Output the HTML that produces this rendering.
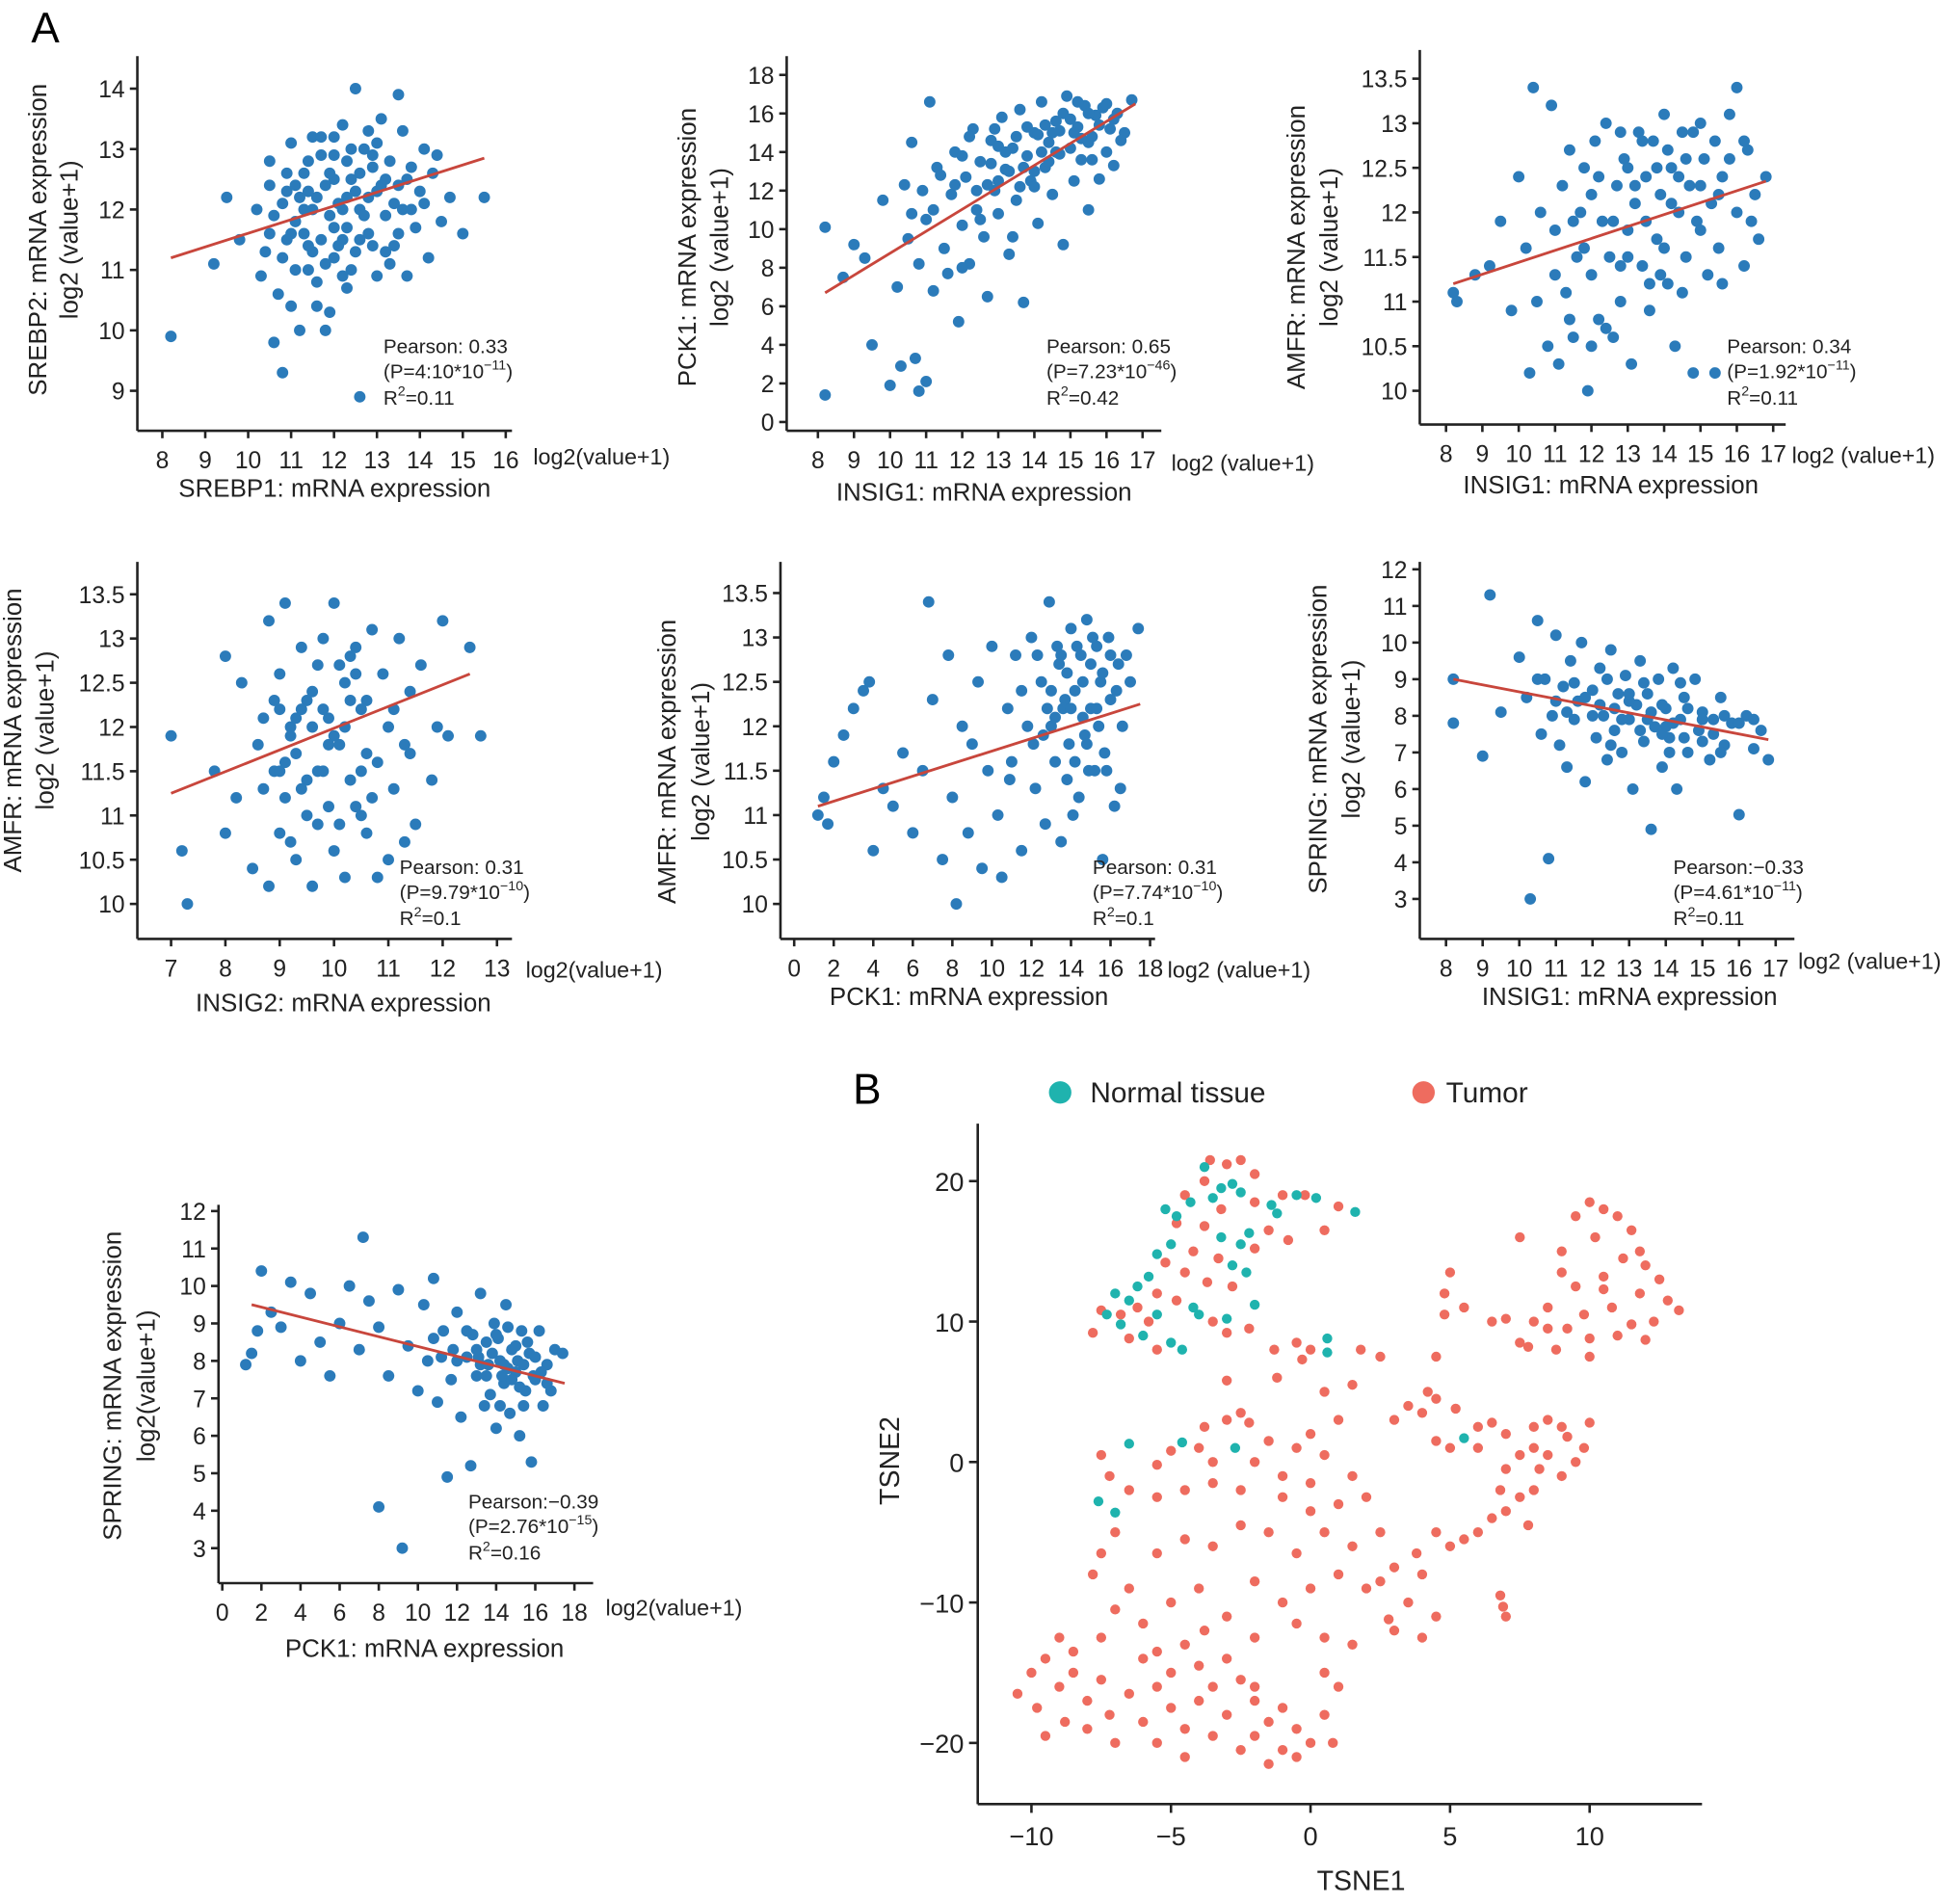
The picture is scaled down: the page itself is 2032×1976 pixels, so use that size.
<!DOCTYPE html>
<html><head><meta charset="utf-8">
<style>
html,body{margin:0;padding:0;background:#fff;}
svg{display:block;font-family:"Liberation Sans",Arial,sans-serif;}
</style></head>
<body>
<svg id="fig" width="2032" height="1976" viewBox="0 0 1568 1525" preserveAspectRatio="none" xmlns="http://www.w3.org/2000/svg">
<rect width="1568" height="1525" fill="#fff"/>
<text x="25" y="34" font-size="34">A</text>
<text x="683" y="884" font-size="34">B</text>
</svg>
<script>
// ---------- data ----------
const p1Data=[[8.2,9.9],[9.2,11.1],[9.5,12.2],[9.8,11.5],[10.2,12.0],[10.3,10.9],[10.5,11.6],[10.5,12.8],[10.6,9.8],[10.8,9.3],[10.8,11.2],[10.9,12.3],[11.0,10.4],[11.0,13.1],[11.1,11.8],[11.2,10.0],[11.3,12.6],[11.4,11.0],[11.5,12.0],[11.5,13.2],[11.6,10.8],[11.7,11.5],[11.8,12.4],[11.9,10.3],[12.0,12.9],[12.0,11.2],[12.1,12.1],[12.2,13.4],[12.3,11.7],[12.3,10.7],[12.4,12.5],[12.5,14.0],[12.5,11.3],[12.6,12.0],[12.7,13.0],[12.8,11.6],[12.9,12.7],[13.0,10.9],[13.0,12.3],[13.1,13.5],[13.2,11.9],[13.3,12.8],[13.4,11.4],[13.5,12.4],[13.5,13.9],[13.6,12.0],[13.7,10.9],[13.8,12.7],[13.9,11.7],[14.0,12.3],[14.1,13.0],[14.2,11.2],[14.3,12.6],[14.5,11.8],[14.7,12.2],[15.0,11.6],[15.5,12.2],[12.6,8.9],[11.7,12.9],[12.2,12.0],[11.3,11.6],[12.8,12.2],[13.3,11.1],[10.9,12.6],[12.0,13.2],[11.6,12.2],[12.4,11.0],[13.8,12.0],[12.9,11.4],[11.1,12.4],[10.7,10.6],[14.4,12.9],[13.6,13.3],[11.9,11.9],[12.6,12.6],[11.4,12.3],[12.2,11.5],[10.6,11.9],[13.1,12.4],
[11.2,12.2],[11.4,12.8],[11.8,11.1],[12.1,11.4],[12.3,12.8],[12.5,12.3],[12.7,11.9],[12.0,12.5],[11.5,11.3],[11.9,12.6],[12.4,13.0],[13.2,12.5],[13.4,12.1],[12.8,13.3],[11.3,12.0],[11.0,11.6],[10.8,12.1],[10.4,11.3],[12.2,10.9],[11.6,10.4],[11.8,10.0],[13.0,13.1],[13.7,12.5],[14.1,12.1],[11.1,11.0],[12.6,11.5],[12.9,12.9],[11.7,13.2],[10.5,12.4],[13.5,11.6],[12.0,11.7],[11.4,11.4],[12.3,12.2],[13.2,11.3],[10.9,11.5]];
const p1Fit=[[8.2,11.2],[15.5,12.85]];
const p2Data=[[8.2,10.1],[8.2,1.4],[8.7,7.5],[9.0,9.2],[9.3,8.5],[9.5,4.0],[9.8,11.5],[10.0,1.9],[10.2,7.0],[10.3,2.9],[10.4,12.3],[10.5,9.5],[10.6,14.5],[10.7,3.3],[10.8,1.6],[10.8,8.2],[10.9,12.0],[11.0,2.1],[11.0,10.5],[11.1,16.6],[11.2,6.8],[11.3,13.2],[11.5,9.0],[11.6,7.7],[11.7,11.8],[11.8,14.0],[11.9,5.2],[12.0,10.2],[12.1,12.7],[12.2,8.2],[12.3,15.2],[12.4,11.0],[12.5,13.5],[12.6,9.6],[12.7,6.5],[12.8,14.6],[12.9,12.0],[13.0,10.8],[13.1,15.8],[13.2,13.1],[13.3,8.7],[13.4,14.2],[13.5,11.5],[13.6,16.2],[13.7,6.2],[13.8,13.8],[13.9,12.5],[14.0,15.0],[14.1,10.3],[14.2,16.6],[14.3,13.2],[14.4,14.5],[14.5,11.8],[14.6,15.6],[14.7,13.9],[14.8,9.2],[14.9,16.9],[15.0,14.2],[15.1,12.5],[15.2,15.3],[15.3,13.6],[15.4,16.4],[15.5,11.0],[15.6,14.8],[15.7,15.9],[15.8,12.6],[15.9,16.3],[16.0,14.0],[16.1,15.2],[16.2,13.3],[16.3,16.0],[16.5,15.0],[16.7,16.7],[12.0,13.8],[13.0,14.3],[14.0,13.0],[12.5,10.5],[11.4,12.8],[13.6,12.2],[14.6,14.0],[15.1,15.0],[13.3,13.0],[14.3,15.4],[15.5,14.5],[12.7,12.3],
[13.5,14.8],[13.8,15.3],[14.2,14.0],[14.5,15.0],[14.8,16.0],[15.0,15.7],[15.3,14.7],[15.5,16.0],[15.8,15.4],[16.0,16.5],[16.2,15.7],[13.2,14.0],[12.8,13.4],[12.4,12.0],[13.0,12.5],[14.0,12.2],[14.4,13.5],[15.6,13.6],[16.4,14.6],[12.2,14.8],[11.8,12.3],[11.2,11.0],[10.6,10.8],[12.0,8.0],[13.4,9.6],[14.7,15.1],[15.2,16.6],[14.1,14.9],[13.7,13.2],[12.9,15.2]];
const p2Fit=[[8.2,6.7],[16.8,16.5]];
const p3Data=[[8.2,11.1],[8.3,11.0],[8.8,11.3],[9.2,11.4],[9.5,11.9],[9.8,10.9],[10.0,12.4],[10.2,11.6],[10.3,10.2],[10.4,13.4],[10.5,11.0],[10.6,12.0],[10.8,10.5],[10.9,13.2],[11.0,11.8],[11.1,10.3],[11.2,12.3],[11.3,11.1],[11.4,12.7],[11.5,10.6],[11.6,11.5],[11.7,12.0],[11.9,10.0],[12.0,11.3],[12.1,12.8],[12.2,10.8],[12.3,11.9],[12.4,13.0],[12.5,11.5],[12.6,10.6],[12.7,12.3],[12.8,11.0],[12.9,12.6],[13.0,11.8],[13.1,10.3],[13.2,12.1],[13.3,12.9],[13.4,11.4],[13.5,12.4],[13.6,10.9],[13.7,12.8],[13.8,11.7],[13.9,12.2],[14.0,13.1],[14.1,11.2],[14.2,12.5],[14.3,10.5],[14.4,12.0],[14.5,12.9],[14.6,11.5],[14.7,12.3],[14.8,10.2],[14.9,11.9],[15.0,13.0],[15.1,12.6],[15.2,11.3],[15.3,12.1],[15.4,12.8],[15.5,11.6],[15.6,12.4],[15.8,13.1],[16.0,12.0],[16.0,13.4],[16.2,11.4],[16.3,12.7],[16.5,12.2],[16.6,11.7],[16.8,12.4],[13.0,12.5],[12.0,12.2],[14.5,11.1],[13.5,11.9],[15.4,10.2],[12.8,12.9],[11.8,11.6],[14.1,12.7],[15.0,12.3],[13.9,11.3],
[13.2,12.3],[13.8,12.5],[14.2,12.1],[14.6,12.6],[15.0,11.8],[15.5,12.2],[14.0,11.6],[13.4,12.8],[12.6,11.9],[12.2,12.4],[11.5,11.9],[11.0,11.3],[12.8,11.4],[15.8,12.6],[16.2,12.8],[14.8,12.9],[13.6,11.2],[12.4,10.7],[11.4,10.8],[15.6,11.2],[14.4,12.4],[13.0,11.5],[16.4,11.9],[12.0,10.5],[11.8,12.5]];
const p3Fit=[[8.2,11.2],[16.8,12.35]];
const p4Data=[[7.0,11.9],[7.2,10.6],[7.3,10.0],[7.8,11.5],[8.0,12.8],[8.0,10.8],[8.2,11.2],[8.3,12.5],[8.5,10.4],[8.6,11.8],[8.7,12.1],[8.8,10.2],[8.8,13.2],[8.9,11.5],[9.0,12.6],[9.0,10.8],[9.1,11.2],[9.1,13.4],[9.2,12.0],[9.3,10.5],[9.3,11.7],[9.4,12.9],[9.5,11.0],[9.5,12.3],[9.6,10.2],[9.7,11.5],[9.7,12.7],[9.8,13.0],[9.9,11.1],[9.9,12.1],[10.0,10.6],[10.0,13.4],[10.1,11.8],[10.2,12.5],[10.2,10.3],[10.3,11.4],[10.4,12.9],[10.5,11.0],[10.5,12.2],[10.6,10.8],[10.7,13.1],[10.8,11.6],[10.9,12.6],[11.0,10.5],[11.0,12.0],[11.1,11.3],[11.2,13.0],[11.3,11.8],[11.4,12.4],[11.5,10.9],[11.6,12.7],[11.8,11.4],[11.9,12.0],[12.0,13.2],[12.1,11.9],[12.5,12.9],[12.7,11.9],[9.4,12.2],[9.2,11.9],[10.3,12.3],[9.6,12.0],[10.6,11.7],[8.9,12.3],[9.8,11.5],[10.8,10.3],[11.3,10.7],[9.0,11.5],[10.1,12.7],[9.5,11.4],[10.4,11.1],
[9.3,12.1],[9.6,12.4],[9.8,12.2],[10.0,11.9],[10.2,12.0],[10.4,12.6],[10.6,12.3],[9.1,11.6],[9.4,11.3],[9.9,11.8],[10.7,11.2],[9.7,10.9],[10.1,10.9],[9.2,10.7],[11.1,12.2],[11.4,11.7],[8.7,11.3],[10.5,11.5],[9.0,12.2],[10.3,12.8]];
const p4Fit=[[7.0,11.25],[12.5,12.6]];
const p5Data=[[1.2,11.0],[1.5,11.2],[1.7,10.9],[2.0,11.6],[2.5,11.9],[3.0,12.2],[3.5,12.4],[3.8,12.5],[4.0,10.6],[4.5,11.3],[5.0,11.1],[5.5,11.7],[6.0,10.8],[6.5,11.5],[6.8,13.4],[7.0,12.3],[7.5,10.5],[7.8,12.8],[8.0,11.2],[8.2,10.0],[8.5,12.0],[8.8,10.8],[9.0,11.8],[9.3,12.5],[9.5,10.4],[9.8,11.5],[10.0,12.9],[10.3,11.0],[10.5,10.3],[10.8,12.2],[11.0,11.6],[11.2,12.8],[11.5,10.6],[11.8,12.0],[12.0,13.0],[12.2,11.3],[12.5,12.5],[12.7,10.9],[12.9,13.4],[13.0,12.0],[13.2,11.6],[13.4,12.7],[13.5,10.7],[13.7,12.3],[13.9,11.8],[14.0,13.1],[14.2,12.4],[14.4,11.2],[14.5,12.8],[14.7,11.9],[14.8,13.2],[15.0,12.2],[15.2,11.5],[15.3,12.9],[15.5,12.5],[15.7,11.7],[15.9,13.0],[16.0,12.3],[16.2,11.1],[16.4,12.7],[16.6,12.0],[17.0,12.5],[17.4,13.1],[14.1,11.0],[13.3,12.9],[12.6,11.9],[15.6,10.5],[10.9,11.4],[14.9,11.5],[13.8,12.6],[14.6,12.1],[15.4,12.0],[13.6,12.2],
[13.0,12.4],[13.5,12.8],[14.0,12.2],[14.3,12.9],[14.6,12.5],[15.0,12.7],[15.3,12.2],[15.6,12.6],[16.0,12.8],[16.3,12.4],[14.8,11.8],[13.8,11.4],[12.8,12.2],[12.3,12.8],[15.8,11.5],[16.5,11.3],[14.2,11.6],[13.2,12.1],[15.1,13.0],[16.8,12.8],[12.1,11.8],[11.5,12.4]];
const p5Fit=[[1.2,11.1],[17.5,12.25]];
const p6Data=[[8.2,9.0],[8.2,7.8],[9.0,6.9],[9.2,11.3],[9.5,8.1],[10.0,9.6],[10.2,8.5],[10.3,3.0],[10.5,10.6],[10.6,7.5],[10.7,9.0],[10.8,4.1],[10.9,8.0],[11.0,10.2],[11.1,7.2],[11.2,8.8],[11.3,6.6],[11.4,9.5],[11.5,7.9],[11.6,8.4],[11.7,10.0],[11.8,6.2],[12.0,8.7],[12.1,7.4],[12.2,9.3],[12.3,8.0],[12.4,6.8],[12.5,9.8],[12.6,7.6],[12.7,8.6],[12.8,7.0],[12.9,9.1],[13.0,7.9],[13.1,6.0],[13.2,8.3],[13.3,9.5],[13.4,7.3],[13.5,8.6],[13.6,4.9],[13.7,7.7],[13.8,9.0],[13.9,6.6],[14.0,8.2],[14.1,7.4],[14.2,9.3],[14.3,6.0],[14.4,7.9],[14.5,8.5],[14.6,7.0],[14.8,9.0],[14.9,7.6],[15.0,8.1],[15.2,6.8],[15.3,7.9],[15.5,8.5],[15.6,7.2],[15.8,7.8],[16.0,5.3],[16.2,8.0],[16.4,7.1],[16.6,7.6],[16.8,6.8],[12.0,8.0],[13.0,8.4],[14.0,7.7],[11.5,8.9],[15.0,7.3],[12.5,7.2],[13.5,7.9],[14.5,7.4],[13.9,8.3],[11.0,8.4],
[12.2,8.3],[12.6,8.2],[13.0,8.6],[13.3,7.6],[13.6,8.1],[13.9,7.5],[14.2,7.8],[14.6,8.2],[15.0,7.9],[15.3,7.5],[15.6,8.0],[14.4,8.9],[13.4,8.9],[12.8,7.9],[12.4,9.0],[11.8,8.5],[11.3,8.1],[10.5,9.0],[14.1,7.0],[15.5,7.0],[16.0,7.8],[16.4,7.9]];
const p6Fit=[[8.2,9.0],[16.8,7.35]];
const p7Data=[[1.2,7.9],[1.5,8.2],[1.8,8.8],[2.0,10.4],[2.5,9.3],[3.0,8.9],[3.5,10.1],[4.0,8.0],[4.5,9.8],[5.0,8.5],[5.5,7.6],[6.0,9.0],[6.5,10.0],[7.0,8.3],[7.2,11.3],[7.5,9.6],[8.0,4.1],[8.0,8.9],[8.5,7.6],[9.0,9.9],[9.2,3.0],[9.5,8.4],[10.0,7.2],[10.3,9.5],[10.5,8.0],[10.8,10.2],[11.0,6.9],[11.3,8.8],[11.5,4.9],[11.7,7.5],[12.0,9.3],[12.2,6.5],[12.5,8.1],[12.7,5.2],[13.0,7.6],[13.2,9.8],[13.4,6.8],[13.5,8.5],[13.7,7.1],[13.9,9.0],[14.0,6.2],[14.2,8.0],[14.4,7.4],[14.5,9.5],[14.7,6.6],[14.8,8.3],[15.0,7.7],[15.2,6.0],[15.3,8.8],[15.5,7.2],[15.7,8.2],[15.8,5.3],[16.0,7.5],[16.2,8.8],[16.4,6.8],[16.6,7.9],[16.8,7.2],[17.0,8.3],[17.4,8.2],[12.8,8.7],[14.1,8.6],[15.1,8.0],[13.6,7.9],[11.8,8.3],[14.6,7.8],[15.9,7.6],[14.3,7.6],[13.1,8.1],[15.4,7.9],
[12.5,8.8],[13.0,8.3],[13.5,7.6],[13.8,8.2],[14.0,8.7],[14.4,7.9],[14.8,7.5],[15.0,8.4],[15.2,7.3],[15.6,8.5],[16.0,8.1],[16.3,7.7],[14.6,8.9],[13.2,7.9],[12.0,8.0],[11.2,8.1],[10.8,8.6],[15.4,6.8],[16.6,7.4],[14.2,6.8]];
const p7Fit=[[1.5,9.5],[17.5,7.4]];
const tsneNormal=[[-3.8,21.0],[-3.2,19.5],[-2.8,19.8],[-2.5,19.2],[-4.3,18.5],[-3.5,18.8],[-5.2,18.0],[-4.8,17.5],[-1.4,18.3],[-0.5,19.0],[0.2,18.8],[1.6,17.8],[-1.2,17.7],[-2.2,16.3],[-2.5,15.5],[-3.2,16.0],[-5.0,15.5],[-5.5,14.8],[-2.8,14.0],[-2.3,13.5],[-5.8,13.2],[-6.2,12.5],[-7.0,12.0],[-6.5,11.5],[-4.2,11.0],[-4.0,10.5],[-5.5,10.5],[-2.0,11.2],[-3.0,10.2],[-7.3,10.5],[-6.8,9.8],[-6.0,9.0],[-5.0,8.5],[-4.6,8.0],[0.6,8.8],[0.6,7.8],[-6.5,1.3],[-4.6,1.4],[-2.7,1.0],[5.5,1.7],[-7.6,-2.8],[-7.0,-3.6]];
const tsneTumor=[[-3.6,21.5],[-3.0,21.2],[-2.5,21.5],[-2.0,20.5],[-3.8,20.0],[-4.5,19.0],[-3.2,18.0],[-2.0,18.5],[-1.0,19.0],[-0.2,19.0],[1.0,18.2],[-4.8,17.0],[-3.8,16.8],[-1.5,16.5],[-0.8,15.8],[0.5,16.5],[-2.0,15.2],[-4.2,15.0],[-3.3,14.5],[-5.2,14.2],[-4.5,13.5],[-3.7,12.8],[-2.8,12.5],[-5.5,12.0],[-4.8,11.5],[-6.2,11.0],[-7.5,10.8],[-6.8,10.5],[-5.8,10.0],[-3.5,10.0],[-2.2,9.5],[-7.8,9.2],[-6.5,8.8],[-5.5,8.0],[-3.0,9.2],[-1.3,8.0],[-0.5,8.5],[0.0,8.0],[-0.3,7.3],[1.8,8.0],[2.5,7.5],[1.5,5.5],[0.5,5.0],[-1.2,6.0],[-3.0,5.8],
[7.5,16.0],[9.5,17.5],[10.0,18.5],[10.5,18.0],[11.0,17.5],[11.5,16.5],[10.2,16.0],[9.0,15.0],[11.2,14.5],[12.0,14.0],[12.5,13.0],[10.5,13.2],[9.5,12.5],[11.8,12.0],[12.8,11.5],[13.2,10.8],[12.3,10.0],[10.8,11.0],[9.8,10.5],[8.5,11.0],[8.0,10.0],[9.2,9.5],[10.0,8.8],[11.0,9.0],[7.0,10.2],[6.5,10.0],[5.0,13.5],[4.8,12.0],[5.5,11.0],[4.8,10.5],[8.8,8.0],[10.0,7.5],[7.5,8.5],[11.5,9.8],[12.0,8.7],[10.5,12.3],[9.0,13.5],[11.8,15.0],[8.5,9.5],[7.8,8.2],
[4.5,7.5],[4.2,5.0],[3.5,4.0],[4.5,4.5],[3.0,3.0],[4.0,3.5],[5.2,3.8],[6.0,2.5],[6.5,2.8],[7.0,2.0],[8.0,2.5],[8.5,3.0],[9.0,2.5],[9.2,1.8],[8.0,1.0],[7.5,0.5],[7.0,-0.5],[8.2,-0.5],[8.5,0.5],[9.0,-1.0],[9.5,0.0],[9.8,1.0],[10.0,2.8],[6.0,1.0],[5.0,1.0],[4.5,1.5],[6.8,-2.0],[7.5,-2.5],[8.0,-2.0],[7.0,-3.5],[6.5,-4.0],[7.8,-4.5],[6.0,-5.0],[5.5,-5.5],[5.0,-6.0],[4.5,-5.0],[3.8,-6.5],[3.0,-7.5],[4.0,-8.0],[2.5,-8.5],[2.0,-9.0],[3.5,-10.0],[6.8,-9.5],[6.9,-10.3],[7.0,-11.0],[4.5,-11.0],[3.0,-12.0],[4.0,-12.5],[2.8,-11.2],
[1.0,3.0],[0.0,2.0],[-0.5,1.0],[0.5,0.5],[-1.5,1.5],[-2.2,2.8],[-3.0,3.0],[-3.8,2.5],[-2.5,3.5],[-4.0,1.0],[-5.0,0.8],[-5.5,-0.2],[-3.5,0.0],[-2.0,0.0],[-1.0,-1.0],[0.0,-1.5],[1.5,-1.0],[2.0,-2.5],[1.0,-3.0],[0.0,-3.5],[-1.0,-2.5],[-2.5,-2.0],[-3.5,-1.5],[-4.5,-2.0],[-5.5,-2.5],[-6.5,-2.0],[-7.5,0.5],[-7.2,-1.0],[-7.0,-5.0],[-7.5,-6.5],[-7.8,-8.0],[-6.5,-9.0],[-7.0,-10.5],[-6.0,-11.5],[-5.0,-10.0],[-4.0,-9.0],[-5.5,-6.5],[-4.5,-5.5],[-3.5,-6.0],[-2.5,-4.5],[-1.5,-5.0],[-0.5,-6.5],[0.5,-5.0],[1.5,-6.0],[2.5,-5.0],[1.0,-8.0],[0.0,-9.0],[-1.0,-10.0],[-2.0,-8.5],[-3.0,-11.0],[-2.0,-12.5],[-0.5,-11.5],[0.5,-12.5],[1.5,-13.0],[-4.5,-13.0],[-5.5,-13.5],
[-10.5,-16.5],[-10.0,-15.0],[-9.5,-14.0],[-9.8,-17.5],[-9.5,-19.5],[-9.0,-16.0],[-8.8,-18.5],[-8.5,-15.0],[-8.0,-17.0],[-8.0,-19.0],[-7.5,-15.5],[-7.2,-18.0],[-7.0,-20.0],[-6.5,-16.5],[-6.0,-14.0],[-6.0,-18.5],[-5.5,-16.0],[-5.0,-17.5],[-5.0,-15.0],[-4.5,-19.0],[-4.0,-14.5],[-4.0,-17.0],[-3.5,-16.0],[-3.0,-14.0],[-3.0,-18.0],[-2.5,-15.5],[-2.0,-17.0],[-2.0,-19.5],[-1.5,-18.5],[-1.0,-20.5],[-1.0,-17.5],[-0.5,-21.0],[-0.5,-19.0],[0.0,-20.0],[0.5,-18.0],[0.8,-20.0],[1.0,-16.0],[-1.5,-21.5],[-2.5,-20.5],[-3.5,-19.5],[-4.5,-21.0],[-5.5,-20.0],[-8.5,-13.5],[-9.0,-12.5],[-2.0,-16.0],[-3.8,-12.0],[0.5,-15.0],[-7.5,-12.5]];
const tsneXTicks=[-10,-5,0,5,10];
const tsneYTicks=[-20,-10,0,10,20];

// ---------- helpers ----------
const NS='http://www.w3.org/2000/svg';
const svg=document.getElementById('fig');
function mk(tag,attrs,parent){const e=document.createElementNS(NS,tag);for(const k in attrs)e.setAttribute(k,attrs[k]);(parent||svg).appendChild(e);return e;}
function lin(d0,d1,r0,r1){return v=>r0+(v-d0)*(r1-r0)/(d1-d0);}
function fmt(v){return v<0?'\u2212'+Math.abs(v):String(v);}

function scatterPanel(c){
  const g=mk('g',{});
  
  
  const sx=lin(c.xd[0],c.xd[1],c.xr[0],c.xr[1]);
  const sy=lin(c.yd[0],c.yd[1],c.yr[0],c.yr[1]);
  const ya=mk('line',{x1:c.ax,y1:c.top,x2:c.ax,y2:c.ay,stroke:'#222','stroke-width':2},g);
  
  const xa=mk('line',{x1:c.ax,y1:c.ay,x2:c.right,y2:c.ay,stroke:'#222','stroke-width':2},g);
  
  c.xt.forEach(v=>{const x=sx(v);
    mk('line',{x1:x,y1:c.ay,x2:x,y2:c.ay+6,stroke:'#222','stroke-width':2},g);
    const t=mk('text',{x:x,y:c.ay+30,'font-size':19,'text-anchor':'middle',fill:'#222'},g);t.textContent=fmt(v);
    });
  c.yt.forEach(v=>{const y=sy(v);
    mk('line',{x1:c.ax-6,y1:y,x2:c.ax,y2:y,stroke:'#222','stroke-width':2},g);
    const t=mk('text',{x:c.ax-10,y:y+7,'font-size':19,'text-anchor':'end',fill:'#222'},g);t.textContent=fmt(v);
    });
  c.data.forEach(p=>{const d=mk('circle',{cx:sx(p[0]),cy:sy(p[1]),r:4.6,fill:c.color},g);
    });
  if(c.fit){const l=mk('line',{x1:sx(c.fit[0][0]),y1:sy(c.fit[0][1]),x2:sx(c.fit[1][0]),y2:sy(c.fit[1][1]),stroke:'#c8463c','stroke-width':2.2},g);
    }
  if(c.xl){const t=mk('text',{x:c.xl[1],y:c.xl[2],'font-size':20,'text-anchor':'middle',fill:'#222'},g);t.textContent=c.xl[0];
    }
  if(c.unit){const t=mk('text',{x:c.unit[1],y:c.unit[2],'font-size':18,fill:'#222'},g);t.textContent=c.unit[0];
    }
  if(c.yl){c.yl.forEach((s,i)=>{const x=c.ylx[i],y=c.yly;
    const t=mk('text',{x:x,y:y,'font-size':20,'text-anchor':'middle',fill:'#222',transform:`rotate(-90 ${x} ${y})`},g);t.textContent=s;
    });}
  if(c.stats){const [px,py]=c.statPos;
    const a=mk('text',{x:px,y:py,'font-size':16,fill:'#222'},g);a.textContent='Pearson:'+c.stats[0];
    
    const b=mk('text',{x:px,y:py+20,'font-size':16,fill:'#222'},g);
    
    b.appendChild(document.createTextNode('(P='+c.stats[1]+'*10'));
    const s=mk('tspan',{'font-size':11,dy:-7},b);s.textContent=c.stats[2];
    const e=mk('tspan',{dy:7},b);e.textContent=')';
    const r=mk('text',{x:px,y:py+41,'font-size':16,fill:'#222'},g);
    
    r.appendChild(document.createTextNode('R'));
    const s2=mk('tspan',{'font-size':11,dy:-7},r);s2.textContent='2';
    const e2=mk('tspan',{dy:7},r);e2.textContent='='+c.stats[3];}
  return g;
}
const BLUE='#2b7bba';
const r8_16=[8,9,10,11,12,13,14,15,16], r8_17=[8,9,10,11,12,13,14,15,16,17], r0_18=[0,2,4,6,8,10,12,14,16,18];
scatterPanel({name:'scatter-srebp1-srebp2',data:p1Data,fit:p1Fit,color:BLUE,ax:110,ay:345,top:45,right:410,xd:[8,16],xr:[130,405],yd:[9,14],yr:[313,71],xt:r8_16,yt:[9,10,11,12,13,14],
  xl:['SREBP1: mRNA expression',268,398],unit:['log2(value+1)',427,372],yl:['SREBP2:  mRNA expression','log2 (value+1)'],ylx:[37,62],yly:192,stats:[' 0.33','4:10','\u221211','0.11'],statPos:[307,283]});
scatterPanel({name:'scatter-insig1-pck1',data:p2Data,fit:p2Fit,color:BLUE,ax:630,ay:345,top:45,right:930,xd:[8,17],xr:[655,915],yd:[0,18],yr:[338,60],xt:r8_17,yt:[0,2,4,6,8,10,12,14,16,18],
  xl:['INSIG1: mRNA expression',788,401],unit:['log2 (value+1)',938,377],yl:['PCK1:  mRNA expression','log2 (value+1)'],ylx:[557,583],yly:198,stats:[' 0.65','7.23','\u221246','0.42'],statPos:[838,283]});
scatterPanel({name:'scatter-insig1-amfr',data:p3Data,fit:p3Fit,color:BLUE,ax:1137,ay:340,top:40,right:1430,xd:[8,17],xr:[1158,1420],yd:[10,13.5],yr:[313,63],xt:r8_17,yt:[10,10.5,11,11.5,12,12.5,13,13.5],
  xl:['INSIG1: mRNA expression',1290,395],unit:['log2 (value+1)',1435,371],yl:['AMFR: mRNA expression','log2 (value+1)'],ylx:[1045,1071],yly:198,stats:[' 0.34','1.92','\u221211','0.11'],statPos:[1383,283]});
scatterPanel({name:'scatter-insig2-amfr',data:p4Data,fit:p4Fit,color:BLUE,ax:110,ay:752,top:450,right:410,xd:[7,13],xr:[137,398],yd:[10,13.5],yr:[724,476],xt:[7,8,9,10,11,12,13],yt:[10,10.5,11,11.5,12,12.5,13,13.5],
  xl:['INSIG2: mRNA expression',275,810],unit:['log2(value+1)',421,783],yl:['AMFR:  mRNA expression','log2 (value+1)'],ylx:[17,43],yly:585,stats:[' 0.31','9.79','\u221210','0.1'],statPos:[320,700]});
scatterPanel({name:'scatter-pck1-amfr',data:p5Data,fit:p5Fit,color:BLUE,ax:625,ay:752,top:450,right:925,xd:[0,18],xr:[636,921],yd:[10,13.5],yr:[724,475],xt:r0_18,yt:[10,10.5,11,11.5,12,12.5,13,13.5],
  xl:['PCK1: mRNA expression',776,805],unit:['log2 (value+1)',935,783],yl:['AMFR:  mRNA expression','log2 (value+1)'],ylx:[541,568],yly:610,stats:[' 0.31','7.74','\u221210','0.1'],statPos:[875,700]});
scatterPanel({name:'scatter-insig1-spring',data:p6Data,fit:p6Fit,color:BLUE,ax:1137,ay:752,top:450,right:1437,xd:[8,17],xr:[1158,1422],yd:[3,12],yr:[720,456],xt:r8_17,yt:[3,4,5,6,7,8,9,10,11,12],
  xl:['INSIG1: mRNA expression',1305,805],unit:['log2 (value+1)',1440,776],yl:['SPRING:  mRNA expression','log2 (value+1)'],ylx:[1062,1089],yly:592,stats:['\u22120.33','4.61','\u221211','0.11'],statPos:[1340,700]});
scatterPanel({name:'scatter-pck1-spring',data:p7Data,fit:p7Fit,color:BLUE,ax:175,ay:1268,top:965,right:475,xd:[0,18],xr:[178,460],yd:[3,12],yr:[1240,970],xt:r0_18,yt:[3,4,5,6,7,8,9,10,11,12],
  xl:['PCK1: mRNA expression',340,1327],unit:['log2(value+1)',485,1294],yl:['SPRING: mRNA expression','log2(value+1)'],ylx:[97,124],yly:1110,stats:['\u22120.39','2.76','\u221215','0.16'],statPos:[375,1208]});

// ---------- t-SNE panel ----------
(function(){
  const g=mk('g',{});
  
  
  const sx=lin(-10,10,826,1273), sy=lin(20,-20,946,1396);
  const ax=783, ay=1445;
  mk('line',{x1:ax,y1:900,x2:ax,y2:ay,stroke:'#222','stroke-width':2},g);
  mk('line',{x1:ax,y1:ay,x2:1363,y2:ay,stroke:'#222','stroke-width':2},g);
  tsneXTicks.forEach(v=>{const x=sx(v);mk('line',{x1:x,y1:ay,x2:x,y2:ay+7,stroke:'#222','stroke-width':2},g);
    const t=mk('text',{x:x,y:ay+33,'font-size':21,'text-anchor':'middle',fill:'#222'},g);t.textContent=fmt(v);
    });
  tsneYTicks.forEach(v=>{const y=sy(v);mk('line',{x1:ax-7,y1:y,x2:ax,y2:y,stroke:'#222','stroke-width':2},g);
    const t=mk('text',{x:ax-11,y:y+8,'font-size':21,'text-anchor':'end',fill:'#222'},g);t.textContent=fmt(v);
    });
  tsneTumor.forEach(p=>{const d=mk('circle',{cx:sx(p[0]),cy:sy(p[1]),r:4,fill:'#ee6c5f'},g);
    });
  tsneNormal.forEach(p=>{const d=mk('circle',{cx:sx(p[0]),cy:sy(p[1]),r:4,fill:'#1fb3ae'},g);
    });
  const xt=mk('text',{x:1090,y:1514,'font-size':22,'text-anchor':'middle',fill:'#222'},g);xt.textContent='TSNE1';
  
  const yt=mk('text',{x:720,y:1170,'font-size':22,'text-anchor':'middle',fill:'#222',transform:'rotate(-90 720 1170)'},g);yt.textContent='TSNE2';
  
  const l1=mk('circle',{cx:849,cy:875,r:9,fill:'#1fb3ae'},g);
  
  const t1=mk('text',{x:873,y:883,'font-size':23,fill:'#222'},g);t1.textContent='Normal tissue';
  
  const l2=mk('circle',{cx:1140,cy:875,r:9,fill:'#ee6c5f'},g);
  
  const t2=mk('text',{x:1158,y:883,'font-size':23,fill:'#222'},g);t2.textContent='Tumor';
  
})();
</script>
</body></html>
